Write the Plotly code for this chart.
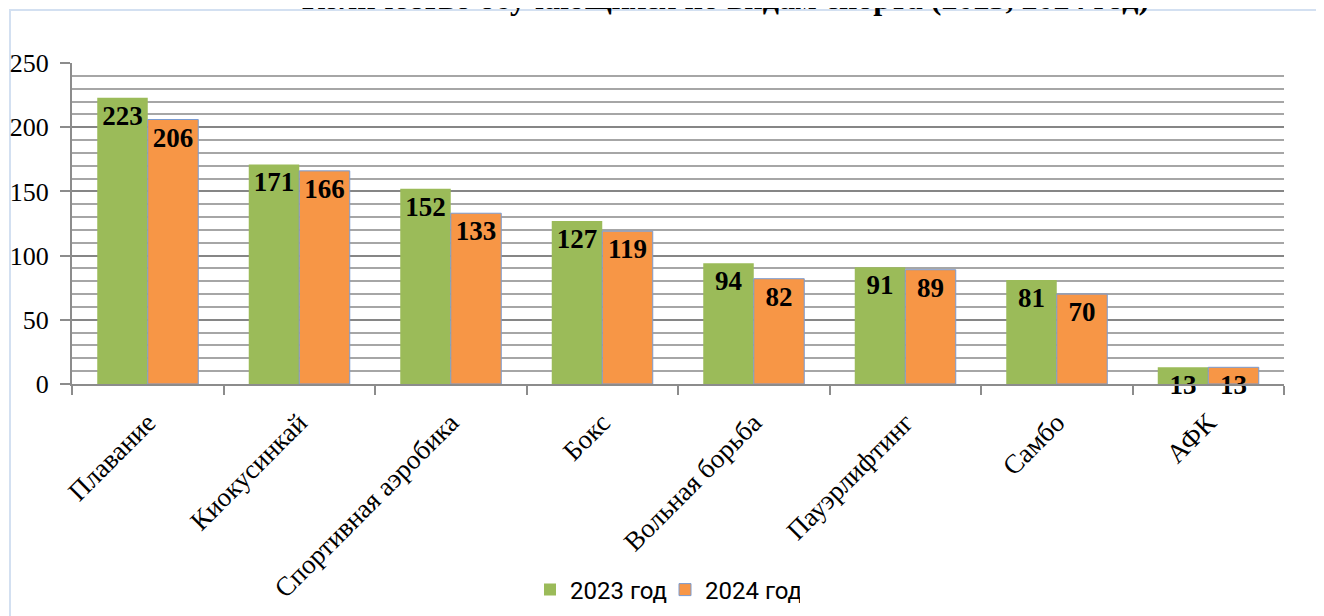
import plotly.graph_objects as go

categories = ["Плавание", "Киокусинкай", "Спортивная аэробика", "Бокс",
              "Вольная борьба", "Пауэрлифтинг", "Самбо", "АФК"]
values_2023 = [223, 171, 152, 127, 94, 91, 81, 13]
values_2024 = [206, 166, 133, 119, 82, 89, 70, 13]
series_names = ["2023 год", "2024 год"]
title_text = "Количество обучающихся по видам спорта (2023, 2024 год)"

# page has an 8px body margin; figure sized to fit the window
W, H = 1316, 608
L, R, T, B = 64, 40, 55, 232

serif = "Liberation Serif, Times New Roman, serif"
lab_font = dict(family=serif, size=27, color="black", weight="bold")

fig = go.Figure()
fig.add_trace(go.Bar(
    x=categories, y=values_2023, name=series_names[0],
    marker=dict(color="#9bbb59", line=dict(width=0)),
    text=values_2023, textposition="inside", insidetextanchor="end",
    constraintext="none", textangle=0, cliponaxis=False,
    textfont=lab_font,
))
fig.add_trace(go.Bar(
    x=categories, y=values_2024, name=series_names[1],
    marker=dict(color="#f79646", line=dict(width=1, color="#7a9bd1")),
    text=values_2024, textposition="inside", insidetextanchor="end",
    constraintext="none", textangle=0, cliponaxis=False,
    textfont=lab_font,
))

pw = W - L - R
ph = H - T - B
def px2x(px):
    return (px - L) / pw
def py2y(py):
    return (H - B - py) / ph

fig.add_shape(type="rect", xref="paper", yref="paper",
              x0=px2x(2), x1=px2x(1340), y0=py2y(2), y1=py2y(640),
              line=dict(color="#d3e0f1", width=2), fillcolor="rgba(0,0,0,0)",
              layer="below")

fig.add_annotation(text="<b>" + title_text + "</b>", xref="paper", yref="paper",
                   x=px2x(717), xanchor="center", y=py2y(10), yanchor="bottom",
                   showarrow=False,
                   font=dict(family=serif, size=32, color="black"))

fig.update_layout(
    width=W, height=H,
    margin=dict(l=L, r=R, t=T, b=B, autoexpand=False),
    paper_bgcolor="white", plot_bgcolor="white",
    barmode="group", bargap=1/3, bargroupgap=0,
    xaxis=dict(
        tickangle=-45, tickfont=dict(family=serif, size=27, color="black"),
        showline=True, linecolor="#8c8c8c", linewidth=2,
        ticks="outside", tickson="boundaries", ticklen=9, tickcolor="#8c8c8c", tickwidth=2,
        ticklabelstandoff=10,
        showgrid=False,
    ),
    yaxis=dict(
        range=[0, 250], dtick=50, tick0=0,
        tickfont=dict(family=serif, size=26, color="black"),
        showline=True, linecolor="#8c8c8c", linewidth=2,
        ticks="outside", ticklen=10, tickcolor="#8c8c8c", tickwidth=2,
        ticklabelstandoff=6,
        showgrid=True, gridcolor="#868686", gridwidth=2,
        minor=dict(dtick=10, showgrid=True, gridcolor="#a6a6a6", gridwidth=2),
        zeroline=False,
    ),
    legend=dict(orientation="h", x=657 / W, xanchor="center", xref="container",
                y=1 - 582 / H, yanchor="middle", yref="container",
                font=dict(family="Roboto, sans-serif", size=24, color="black"),
                itemwidth=30, entrywidth=90, traceorder="normal"),
    showlegend=True,
)

fig.write_html("out.html")
